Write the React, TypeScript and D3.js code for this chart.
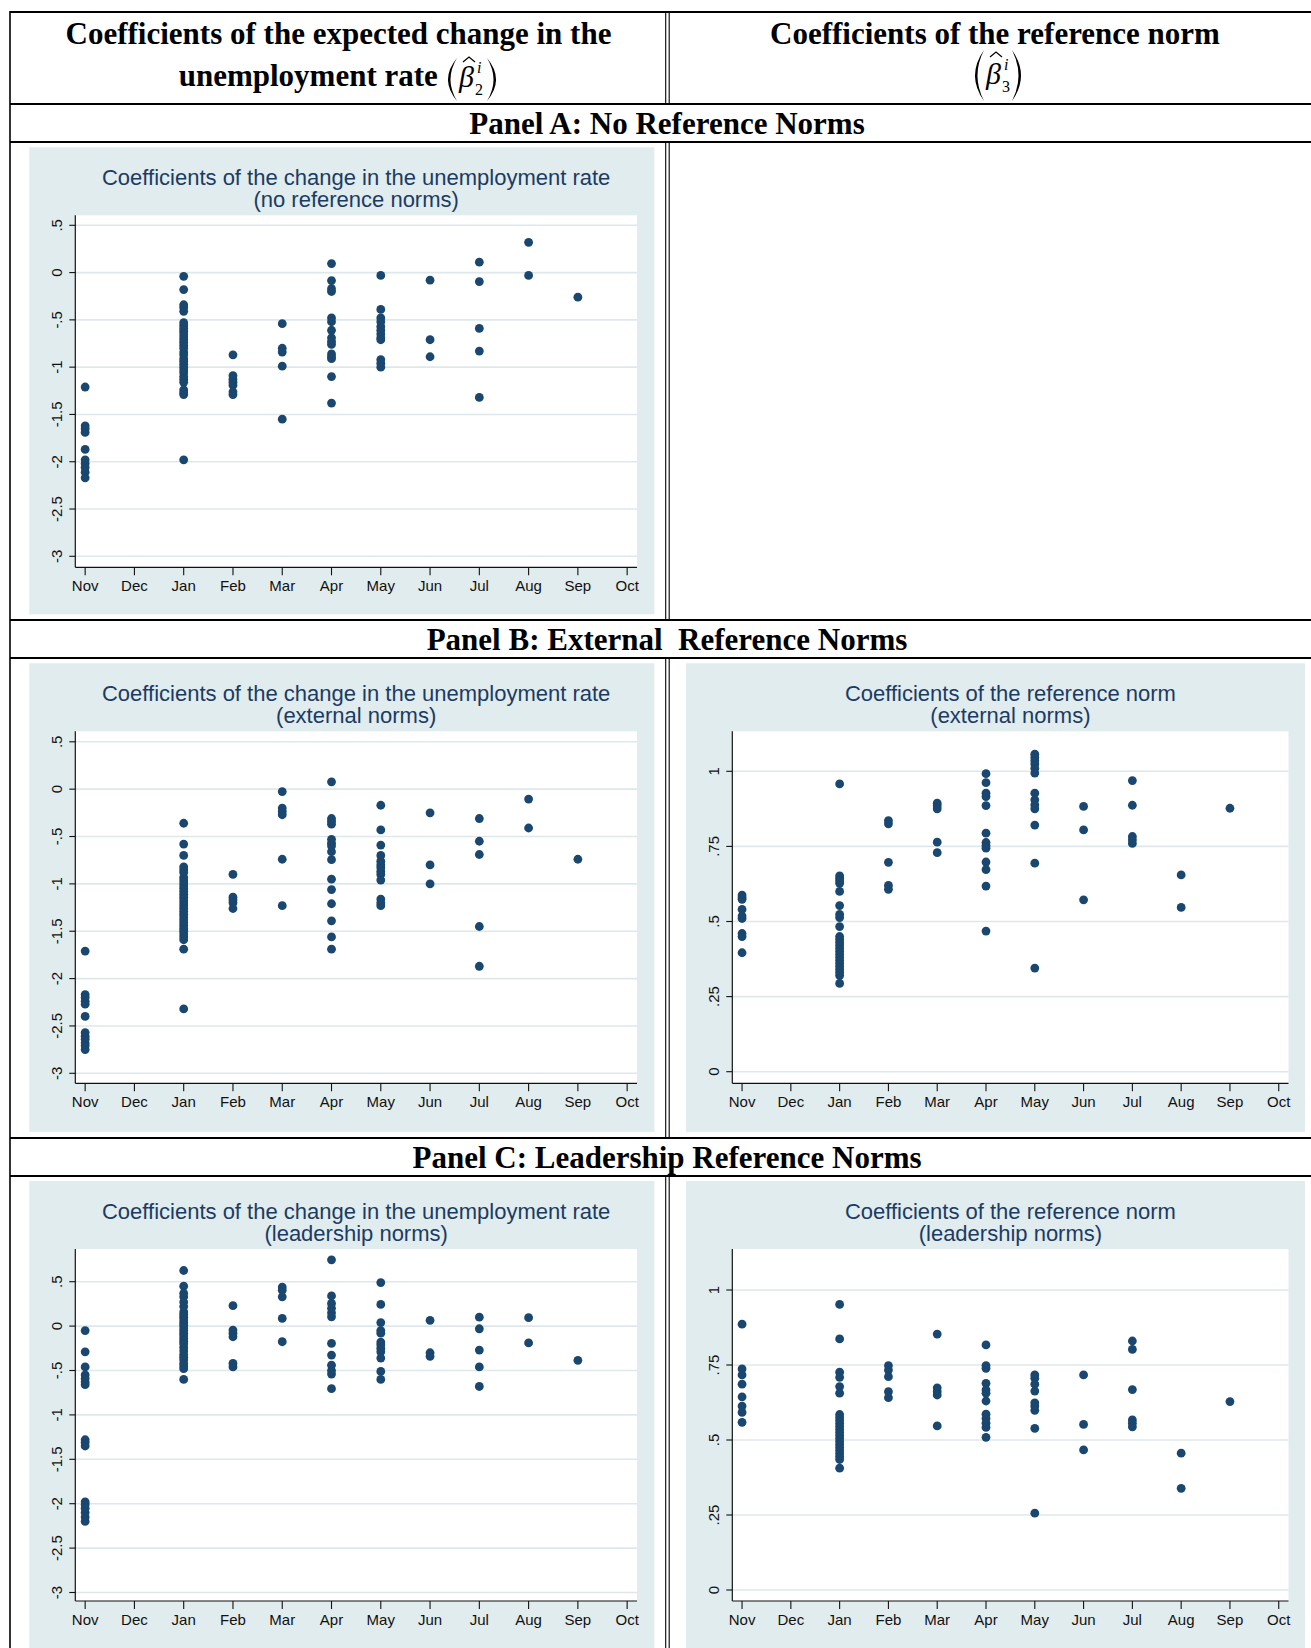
import React from "react";
import * as d3 from "d3";

const months = ["Nov", "Dec", "Jan", "Feb", "Mar", "Apr", "May", "Jun", "Jul", "Aug", "Sep", "Oct"];
const changeTicks = [0.5, 0, -0.5, -1, -1.5, -2, -2.5, -3];
const normTicks = [1, 0.75, 0.5, 0.25, 0];

type Series = [string, number[]][];

const panelAChange: Series = [
  ["Nov", [-1.21, -1.62, -1.65, -1.69, -1.87, -1.98, -2.02, -2.06, -2.11, -2.17]],
  ["Jan", [-0.04, -0.18, -0.34, -0.37, -0.41, -0.53, -0.56, -0.59, -0.62, -0.65, -0.68, -0.71, -0.74, -0.77, -0.8, -0.84, -0.87, -0.91, -0.94, -0.97, -1.0, -1.03, -1.06, -1.1, -1.13, -1.16, -1.24, -1.27, -1.29, -1.98]],
  ["Feb", [-0.87, -1.09, -1.13, -1.16, -1.19, -1.26, -1.29]],
  ["Mar", [-0.54, -0.8, -0.84, -0.99, -1.55]],
  ["Apr", [0.095, -0.085, -0.17, -0.2, -0.48, -0.52, -0.61, -0.69, -0.73, -0.76, -0.86, -0.89, -0.91, -1.1, -1.38]],
  ["May", [-0.03, -0.39, -0.48, -0.52, -0.57, -0.61, -0.65, -0.69, -0.71, -0.92, -0.96, -1.0]],
  ["Jun", [-0.08, -0.71, -0.89]],
  ["Jul", [0.11, -0.095, -0.59, -0.83, -1.32]],
  ["Aug", [0.32, -0.03]],
  ["Sep", [-0.26]],
];

const panelBChange: Series = [
  ["Nov", [-1.71, -2.17, -2.2, -2.24, -2.27, -2.4, -2.57, -2.61, -2.64, -2.68, -2.71, -2.75]],
  ["Jan", [-0.36, -0.58, -0.7, -0.82, -0.85, -0.88, -0.93, -0.96, -0.99, -1.02, -1.05, -1.08, -1.11, -1.14, -1.17, -1.2, -1.23, -1.26, -1.29, -1.32, -1.35, -1.38, -1.41, -1.44, -1.47, -1.5, -1.53, -1.56, -1.59, -1.69, -2.32]],
  ["Feb", [-0.9, -1.14, -1.17, -1.2, -1.26]],
  ["Mar", [-0.025, -0.2, -0.235, -0.27, -0.74, -1.23]],
  ["Apr", [0.077, -0.31, -0.34, -0.37, -0.53, -0.57, -0.6, -0.66, -0.745, -0.95, -1.06, -1.21, -1.39, -1.56, -1.69]],
  ["May", [-0.17, -0.43, -0.59, -0.7, -0.76, -0.8, -0.83, -0.87, -0.9, -0.96, -1.16, -1.2, -1.23]],
  ["Jun", [-0.25, -0.8, -1.0]],
  ["Jul", [-0.31, -0.55, -0.69, -1.45, -1.87]],
  ["Aug", [-0.105, -0.41]],
  ["Sep", [-0.74]],
];

const panelBNorm: Series = [
  ["Nov", [0.588, 0.58, 0.574, 0.54, 0.518, 0.51, 0.46, 0.45, 0.396]],
  ["Jan", [0.958, 0.652, 0.644, 0.635, 0.627, 0.6, 0.553, 0.524, 0.513, 0.483, 0.45, 0.44, 0.43, 0.42, 0.41, 0.4, 0.39, 0.38, 0.37, 0.36, 0.35, 0.34, 0.33, 0.32, 0.294]],
  ["Feb", [0.836, 0.825, 0.697, 0.62, 0.607]],
  ["Mar", [0.894, 0.885, 0.875, 0.764, 0.729]],
  ["Apr", [0.992, 0.962, 0.927, 0.916, 0.886, 0.794, 0.763, 0.753, 0.744, 0.698, 0.673, 0.618, 0.468]],
  ["May", [1.057, 1.046, 1.035, 1.024, 1.01, 0.994, 0.927, 0.905, 0.888, 0.875, 0.821, 0.694, 0.345]],
  ["Jun", [0.883, 0.805, 0.572]],
  ["Jul", [0.969, 0.887, 0.783, 0.772, 0.76]],
  ["Aug", [0.655, 0.547]],
  ["Sep", [0.877]],
];

const panelCChange: Series = [
  ["Nov", [-0.05, -0.29, -0.46, -0.55, -0.59, -0.63, -0.66, -1.28, -1.31, -1.35, -1.98, -2.01, -2.05, -2.1, -2.15, -2.2]],
  ["Jan", [0.626, 0.45, 0.37, 0.33, 0.27, 0.22, 0.16, 0.13, 0.1, 0.07, 0.04, 0.01, -0.02, -0.05, -0.08, -0.11, -0.14, -0.17, -0.2, -0.24, -0.28, -0.32, -0.35, -0.38, -0.42, -0.45, -0.48, -0.6]],
  ["Feb", [0.23, -0.045, -0.08, -0.12, -0.42, -0.46]],
  ["Mar", [0.44, 0.405, 0.33, 0.086, -0.176]],
  ["Apr", [0.746, 0.34, 0.255, 0.2, 0.15, 0.105, -0.195, -0.326, -0.44, -0.5, -0.54, -0.705]],
  ["May", [0.49, 0.244, 0.04, -0.05, -0.08, -0.18, -0.21, -0.25, -0.29, -0.36, -0.51, -0.6]],
  ["Jun", [0.065, -0.3, -0.34]],
  ["Jul", [0.1, -0.03, -0.27, -0.46, -0.68]],
  ["Aug", [0.095, -0.19]],
  ["Sep", [-0.385]],
];

const panelCNorm: Series = [
  ["Nov", [0.886, 0.737, 0.717, 0.686, 0.644, 0.613, 0.592, 0.559]],
  ["Jan", [0.952, 0.837, 0.726, 0.709, 0.678, 0.656, 0.585, 0.575, 0.565, 0.555, 0.545, 0.535, 0.525, 0.515, 0.505, 0.495, 0.485, 0.475, 0.465, 0.455, 0.445, 0.435, 0.406]],
  ["Feb", [0.748, 0.733, 0.711, 0.661, 0.641]],
  ["Mar", [0.853, 0.674, 0.661, 0.65, 0.547]],
  ["Apr", [0.817, 0.748, 0.739, 0.689, 0.667, 0.656, 0.63, 0.586, 0.572, 0.556, 0.542, 0.509]],
  ["May", [0.717, 0.706, 0.686, 0.663, 0.624, 0.613, 0.599, 0.539, 0.256]],
  ["Jun", [0.717, 0.552, 0.467]],
  ["Jul", [0.83, 0.802, 0.668, 0.567, 0.556, 0.544]],
  ["Aug", [0.456, 0.339]],
  ["Sep", [0.628]],
];

const BG = "#E1ECEE";
const GRID = "#DEE8EB";
const NAVY = "#1A476F";
const TITLE = "#1C3B63";
const SANS = "'Liberation Sans', Arial, sans-serif";
const SERIF = "'Liberation Serif', 'Times New Roman', serif";

function fmt(v: number): string {
  if (v === 0) return "0";
  return String(v).replace(/^(-?)0\./, "$1.");
}

type ChartProps = {
  x: number;
  y: number;
  w: number;
  h: number;
  plotL: number;
  plotR: number;
  ticks: number[];
  t1: [number, number];
  t2: [number, number];
  title1: string;
  title2: string;
  data: Series;
};

function Chart({ x, y, w, h, plotL, plotR, ticks, t1, t2, title1, title2, data }: ChartProps) {
  const top = y + 68;
  const bottom = y + 420;
  const xs = d3.scalePoint<string>().domain(months).range([plotL, plotR]).padding(0.2);
  const ys = d3.scaleLinear().domain([t1[0], t2[0]]).range([y + t1[1], y + t2[1]]);
  const cx = (plotL + plotR) / 2;
  const pts: { m: string; v: number }[] = [];
  data.forEach(([m, vals]) => vals.forEach((v) => pts.push({ m, v })));
  return (
    <g>
      <rect x={x} y={y} width={w} height={h} fill={BG} />
      <rect x={plotL} y={top} width={plotR - plotL} height={bottom - top} fill="#fff" />
      {ticks.map((t) => (
        <line key={"g" + t} x1={plotL} x2={plotR} y1={ys(t)} y2={ys(t)} stroke={GRID} strokeWidth={1.6} />
      ))}
      <text x={cx} y={y + 37.5} textAnchor="middle" fontFamily={SANS} fontSize={22} fill={TITLE}>
        {title1}
      </text>
      <text x={cx} y={y + 59.5} textAnchor="middle" fontFamily={SANS} fontSize={22} fill={TITLE}>
        {title2}
      </text>
      <line x1={plotL} x2={plotL} y1={top} y2={bottom} stroke="#111" strokeWidth={1.2} />
      <line x1={plotL} x2={plotR} y1={bottom} y2={bottom} stroke="#111" strokeWidth={1.2} />
      {ticks.map((t) => (
        <g key={"t" + t}>
          <line x1={plotL - 6} x2={plotL} y1={ys(t)} y2={ys(t)} stroke="#111" strokeWidth={1.1} />
          <text
            transform={`translate(${x + 27.5},${ys(t)}) rotate(-90)`}
            textAnchor="middle"
            dominantBaseline="central"
            fontFamily={SANS}
            fontSize={15}
            fill="#111"
          >
            {fmt(t)}
          </text>
        </g>
      ))}
      {months.map((m) => (
        <g key={m}>
          <line x1={xs(m)} x2={xs(m)} y1={bottom} y2={bottom + 8} stroke="#111" strokeWidth={1.1} />
          <text x={xs(m)} y={y + 438.5} textAnchor="middle" dominantBaseline="central" fontFamily={SANS} fontSize={15} fill="#111">
            {m}
          </text>
        </g>
      ))}
      {pts.map((p, i) => (
        <circle key={i} cx={xs(p.m)} cy={ys(p.v)} r={4.4} fill={NAVY} />
      ))}
    </g>
  );
}

function Paren({ x, y0, y1, dir }: { x: number; y0: number; y1: number; dir: number }) {
  const mid = (y0 + y1) / 2;
  const o = x - dir * 18;
  const i = x - dir * 13;
  return <path d={`M${x},${y0} Q${o},${mid} ${x},${y1} Q${i},${mid} ${x},${y0} Z`} fill="#000" />;
}

function Beta({ x, base, sub, top }: { x: number; base: number; sub: string; top: number }) {
  return (
    <g fontFamily={SERIF}>
      <text x={x} y={base} fontSize={30} fontStyle="italic">
        β
      </text>
      <path d={`M${x + 4},${top + 5} L${x + 10},${top} L${x + 16},${top + 5}`} fill="none" stroke="#000" strokeWidth={1.2} />
      <text x={x + 18} y={base - 14} fontSize={16} fontStyle="italic">
        i
      </text>
      <text x={x + 16} y={base + 8} fontSize={16}>
        {sub}
      </text>
    </g>
  );
}

export default function App() {
  const hLines = [104, 142, 620, 658, 1138, 1176];
  const vSegs: [number, number][] = [
    [12, 104],
    [142, 620],
    [658, 1138],
    [1176, 1648],
  ];
  const panelText = { fontFamily: SERIF, fontSize: 31, fontWeight: 700 as const };
  return (
    <svg width={1311} height={1648} style={{ position: "absolute", left: 0, top: 0 }} xmlns="http://www.w3.org/2000/svg">
      <rect x={0} y={0} width={1311} height={1648} fill="#fff" />
      <Chart x={29.3} y={147.3} w={625} h={467} plotL={75.3} plotR={637} ticks={changeTicks} t1={[-3, 409]} t2={[0.5, 78]} title1="Coefficients of the change in the unemployment rate" title2="(no reference norms)" data={panelAChange} />
      <Chart x={29.3} y={663.3} w={625} h={468.5} plotL={75.3} plotR={637} ticks={changeTicks} t1={[-3, 410]} t2={[0.5, 78.5]} title1="Coefficients of the change in the unemployment rate" title2="(external norms)" data={panelBChange} />
      <Chart x={686} y={663.3} w={619} h={468.5} plotL={732.3} plotR={1288.5} ticks={normTicks} t1={[0, 408.4]} t2={[1, 108]} title1="Coefficients of the reference norm" title2="(external norms)" data={panelBNorm} />
      <Chart x={29.3} y={1181} w={625} h={470} plotL={75.3} plotR={637} ticks={changeTicks} t1={[-3, 411.5]} t2={[0.5, 100.7]} title1="Coefficients of the change in the unemployment rate" title2="(leadership norms)" data={panelCChange} />
      <Chart x={686} y={1181} w={619} h={470} plotL={732.3} plotR={1288.5} ticks={normTicks} t1={[0, 409]} t2={[1, 109]} title1="Coefficients of the reference norm" title2="(leadership norms)" data={panelCNorm} />

      <line x1={10} x2={1311} y1={12} y2={12} stroke="#000" strokeWidth={2} />
      <line x1={10} x2={10} y1={11} y2={1648} stroke="#000" strokeWidth={1.6} />
      {hLines.map((h) => (
        <line key={h} x1={10} x2={1311} y1={h} y2={h} stroke="#000" strokeWidth={2} />
      ))}
      {vSegs.map(([a, b]) => (
        <g key={a}>
          <line x1={665.7} x2={665.7} y1={a} y2={b} stroke="#000" strokeWidth={1.1} />
          <line x1={669.2} x2={669.2} y1={a} y2={b} stroke="#000" strokeWidth={1.1} />
        </g>
      ))}

      <text x={338.5} y={43.5} textAnchor="middle" {...panelText}>
        Coefficients of the expected change in the
      </text>
      <text x={178.7} y={85.5} {...panelText}>
        unemployment rate
      </text>
      <Paren x={457} y0={58} y1={101} dir={1} />
      <Beta x={459} base={87} sub="2" top={57} />
      <Paren x={487} y0={58} y1={101} dir={-1} />

      <text x={995} y={43.5} textAnchor="middle" {...panelText}>
        Coefficients of the reference norm
      </text>
      <Paren x={984} y0={50} y1={101} dir={1} />
      <Beta x={986} base={84} sub="3" top={52} />
      <Paren x={1012} y0={50} y1={101} dir={-1} />

      <text x={667} y={133.5} textAnchor="middle" {...panelText}>
        Panel A: No Reference Norms
      </text>
      <text x={667} y={649.5} textAnchor="middle" style={{ whiteSpace: "pre" }} {...panelText}>
        {"Panel B: External  Reference Norms"}
      </text>
      <text x={667} y={1167.5} textAnchor="middle" {...panelText}>
        Panel C: Leadership Reference Norms
      </text>
    </svg>
  );
}
